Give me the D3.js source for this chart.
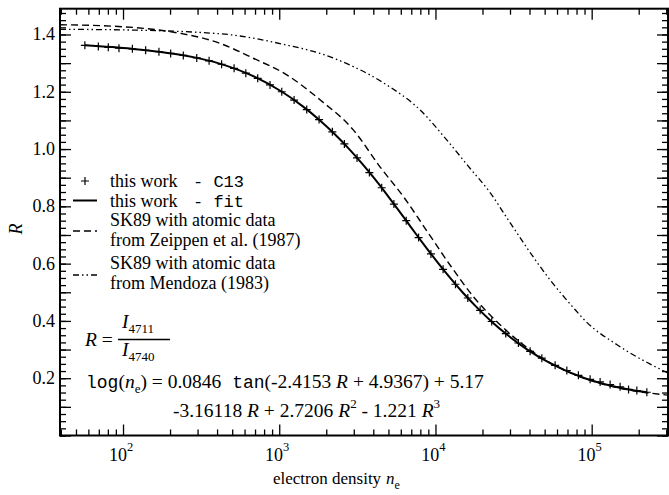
<!DOCTYPE html>
<html>
<head>
<meta charset="utf-8">
<script src="https://cdn.jsdelivr.net/npm/d3@7"></script>
<style>
  body { margin: 0; background: #fff; }
  svg { display: block; }
</style>
</head>
<body>
<div id="chart"></div>
<script>
// this work - C13 (points)
const c13Ne = [57, 69.5, 80.5, 94.2, 114.8, 139.6, 169.8, 201.8, 243.2, 296.5, 355.6, 427.6,
  514, 611, 728, 873, 1038, 1245, 1500, 1799, 2188, 2612, 3148, 3776, 4529, 5420, 6501,
  7798, 9354, 11194, 13428, 16106, 19320, 22909, 28184, 33963, 40365, 47973, 58345,
  69343, 82224, 97724, 113240, 131220, 152055, 172187, 194536, 225423];
const c13R = [1.362, 1.358, 1.355, 1.352, 1.350, 1.345, 1.340, 1.334, 1.327, 1.318, 1.308, 1.296,
  1.282, 1.265, 1.247, 1.224, 1.200, 1.171, 1.138, 1.103, 1.060, 1.018, 0.969, 0.918, 0.865,
  0.808, 0.750, 0.691, 0.634, 0.580, 0.528, 0.480, 0.437, 0.398, 0.356, 0.323, 0.294, 0.270,
  0.245, 0.227, 0.210, 0.196, 0.187, 0.178, 0.170, 0.161, 0.157, 0.151];

// this work - fit (solid)
const fitNe = [57, 113.8, 170.2, 287.1, 405.5, 709.6, 1040, 1409, 1824, 2286, 2805, 3381, 4027,
  4753, 5559, 6501, 7586, 8892, 10471, 12417, 14894, 18197, 22646, 29040, 38726, 55335,
  90365, 119674, 176198, 225423];
const fitR = [1.362, 1.350, 1.340, 1.320, 1.300, 1.250, 1.200, 1.150, 1.100, 1.050, 1.000, 0.950,
  0.900, 0.850, 0.800, 0.750, 0.700, 0.650, 0.600, 0.550, 0.500, 0.450, 0.400, 0.350, 0.300,
  0.250, 0.200, 0.180, 0.160, 0.151];

// SK89, Zeippen et al. (1987) (dashed)
const zeippenNe = [39.5, 100, 199.5, 417.8, 682.3, 1117, 1824, 2979, 4416, 6310, 8913, 12589,
  17783, 25293, 46774, 84333, 152055, 307610];
const zeippenR = [1.434, 1.427, 1.410, 1.369, 1.317, 1.259, 1.172, 1.067, 0.938, 0.830, 0.710,
  0.590, 0.480, 0.392, 0.275, 0.205, 0.165, 0.141];

// SK89, Mendoza (1983) (dash-dot)
const mendozaNe = [39.5, 100, 450, 682, 1117, 1824, 2979, 4875, 7962, 11803, 16634, 22233, 29444,
  39084, 52966, 75336, 92257, 146218, 307610];
const mendozaR = [1.418, 1.416, 1.401, 1.387, 1.363, 1.334, 1.288, 1.224, 1.137, 1.032, 0.933,
  0.850, 0.750, 0.650, 0.550, 0.450, 0.397, 0.316, 0.218];

const xMajor = [100, 1000, 10000, 100000];
const xExponents = ["2", "3", "4", "5"];
const yLabels = [0.2, 0.4, 0.6, 0.8, 1.0, 1.2, 1.4];

const width = 669, height = 495;
const plot = { left: 60, right: 668, top: 8.7, bottom: 435.5 };
const serif = '"Liberation Serif", "Times New Roman", Times, serif';
const mono = '"Liberation Mono", "Courier New", monospace';

const svg = d3.select('#chart').append('svg')
  .attr('width', width)
  .attr('height', height)
  .style('background', 'white');

const x = d3.scaleLog().domain([39.5, 3.08e5]).range([plot.left, plot.right]);
const y = d3.scaleLinear().domain([0, 1.49]).range([plot.bottom, plot.top]);

// ticks, all pointing inward, on all four sides
const xMinor = x.ticks().filter(v => !xMajor.includes(v));
const yMajor = d3.range(0, 1.45, 0.1);
const yMinor = d3.range(0, 1.49, 0.025);

function ticks(axis, values, size, transform) {
  svg.append('g')
    .attr('transform', transform)
    .call(axis.tickValues(values).tickSize(size).tickSizeOuter(0).tickFormat(''))
    .call(g => g.select('.domain').remove())
    .selectAll('line').attr('stroke-width', 1.3);
}
ticks(d3.axisBottom(x), xMajor, -11, `translate(0,${plot.bottom})`);
ticks(d3.axisBottom(x), xMinor, -6, `translate(0,${plot.bottom})`);
ticks(d3.axisTop(x), xMajor, -11, `translate(0,${plot.top})`);
ticks(d3.axisTop(x), xMinor, -6, `translate(0,${plot.top})`);
ticks(d3.axisLeft(y), yMajor, -11, `translate(${plot.left},0)`);
ticks(d3.axisLeft(y), yMinor, -6, `translate(${plot.left},0)`);
ticks(d3.axisRight(y), yMajor, -11, `translate(${plot.right},0)`);
ticks(d3.axisRight(y), yMinor, -6, `translate(${plot.right},0)`);

svg.append('rect')
  .attr('x', plot.left).attr('y', plot.top)
  .attr('width', plot.right - plot.left).attr('height', plot.bottom - plot.top)
  .attr('fill', 'none').attr('stroke', 'black').attr('stroke-width', 2);

// text helper: serif by default
function txt(size) {
  return svg.append('text').style('font-family', serif).style('font-size', size + 'px');
}

// tick labels
yLabels.forEach(d => {
  txt(18).attr('x', plot.left - 5).attr('y', y(d) + 6)
    .attr('text-anchor', 'end').text(d.toFixed(1));
});

xMajor.forEach((v, i) => {
  const t = txt(18).attr('x', x(v) - 2).attr('y', 461).attr('text-anchor', 'middle');
  t.append('tspan').text('10');
  t.append('tspan').attr('dy', -10).style('font-size', '12.5px').text(xExponents[i]);
});

// axis titles
const xt = txt(17).attr('x', 273).attr('y', 484);
xt.append('tspan').text('electron density');
xt.append('tspan').attr('x', 386).style('font-style', 'italic').text('n');
xt.append('tspan').attr('dy', 5).style('font-size', '12px').text('e');

txt(18)
  .attr('transform', 'translate(22,229) rotate(-90)')
  .attr('text-anchor', 'middle')
  .style('font-style', 'italic')
  .text('R');

// curves
const line = d3.line()
  .x(d => x(d[0]))
  .y(d => y(d[1]))
  .curve(d3.curveMonotoneX);

svg.append('path')
  .datum(d3.zip(mendozaNe, mendozaR))
  .attr('d', line)
  .attr('fill', 'none').attr('stroke', 'black').attr('stroke-width', 1.3)
  .attr('stroke-dasharray', '6,3,1.5,3,1.5,3');

svg.append('path')
  .datum(d3.zip(zeippenNe, zeippenR))
  .attr('d', line)
  .attr('fill', 'none').attr('stroke', 'black').attr('stroke-width', 1.4)
  .attr('stroke-dasharray', '7,4');

svg.append('path')
  .datum(d3.zip(fitNe, fitR))
  .attr('d', line)
  .attr('fill', 'none').attr('stroke', 'black').attr('stroke-width', 2);

const plus = 'M-4,0H4M0,-4V4';
svg.selectAll('.c13')
  .data(d3.zip(c13Ne, c13R))
  .enter().append('path')
    .attr('d', plus)
    .attr('transform', d => `translate(${x(d[0])},${y(d[1])})`)
    .attr('stroke', 'black').attr('stroke-width', 1.2);

// legend
svg.append('path').attr('d', plus).attr('transform', 'translate(85,181)')
  .attr('stroke', 'black').attr('stroke-width', 1.2);
svg.append('line').attr('x1', 73).attr('x2', 97).attr('y1', 200.5).attr('y2', 200.5)
  .attr('stroke', 'black').attr('stroke-width', 2);
svg.append('line').attr('x1', 73).attr('x2', 97).attr('y1', 231).attr('y2', 231)
  .attr('stroke', 'black').attr('stroke-width', 1.4).attr('stroke-dasharray', '7,4');
svg.append('line').attr('x1', 73).attr('x2', 97).attr('y1', 275).attr('y2', 275)
  .attr('stroke', 'black').attr('stroke-width', 1.3).attr('stroke-dasharray', '6,3,1.5,3,1.5,3');

function legendLine(y0, parts) {
  const t = txt(18).attr('x', 110).attr('y', y0);
  parts.forEach(p => {
    const s = t.append('tspan').text(p[0]);
    if (p[1] === 'mono') s.attr('x', 193).style('font-family', mono).style('font-size', '17px');
  });
}
legendLine(186.5, [['this work'], ['- C13', 'mono']]);
legendLine(206.5, [['this work'], ['- fit', 'mono']]);
legendLine(225.5, [['SK89 with atomic data']]);
legendLine(245.5, [['from Zeippen et al. (1987)']]);
legendLine(269, [['SK89 with atomic data']]);
legendLine(288.5, [['from Mendoza (1983)']]);

// equations
const eqSize = 19.5;
const e1 = txt(eqSize).attr('x', 85).attr('y', 346);
e1.append('tspan').style('font-style', 'italic').text('R');
e1.append('tspan').text(' = ');
svg.append('line').attr('x1', 118).attr('x2', 170).attr('y1', 339.5).attr('y2', 339.5)
  .attr('stroke', 'black').attr('stroke-width', 1.3);
const num = txt(eqSize).attr('x', 122).attr('y', 328);
num.append('tspan').style('font-style', 'italic').text('I');
num.append('tspan').attr('dy', 5).style('font-size', '13px').text('4711');
const den = txt(eqSize).attr('x', 122).attr('y', 356);
den.append('tspan').style('font-style', 'italic').text('I');
den.append('tspan').attr('dy', 5).style('font-size', '13px').text('4740');

const e2 = txt(eqSize).attr('x', 86).attr('y', 388);
e2.append('tspan').style('font-family', mono).style('font-size', '18px').text('log');
e2.append('tspan').text('(');
e2.append('tspan').style('font-style', 'italic').text('n');
e2.append('tspan').attr('dy', 5).style('font-size', '13px').text('e');
e2.append('tspan').attr('dy', -5).text(') = 0.0846 ');
e2.append('tspan').attr('dx', 6).style('font-family', mono).style('font-size', '18px').text('tan');
e2.append('tspan').text('(-2.4153 ');
e2.append('tspan').style('font-style', 'italic').text('R');
e2.append('tspan').text(' + 4.9367) + 5.17');

const e3 = txt(eqSize).attr('x', 173).attr('y', 416.5);
e3.append('tspan').text('-3.16118 ');
e3.append('tspan').style('font-style', 'italic').text('R');
e3.append('tspan').text(' + 2.7206 ');
e3.append('tspan').style('font-style', 'italic').text('R');
e3.append('tspan').attr('dy', -9).style('font-size', '13px').text('2');
e3.append('tspan').attr('dy', 9).text(' - 1.221 ');
e3.append('tspan').style('font-style', 'italic').text('R');
e3.append('tspan').attr('dy', -9).style('font-size', '13px').text('3');
</script>
</body>
</html>
